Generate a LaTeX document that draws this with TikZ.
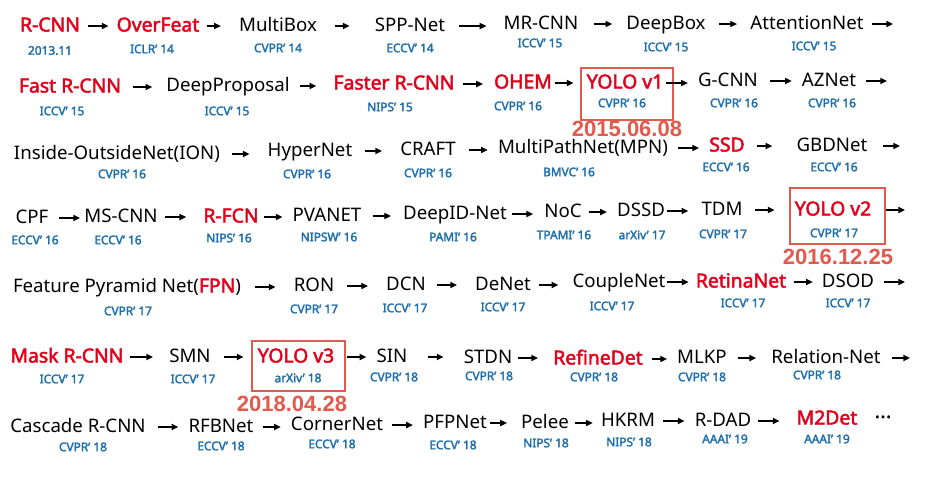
\documentclass[tikz,border=0pt]{standalone}
\usepackage{fontspec}
\setmainfont{Noto Sans}[AutoFakeBold=2.4]
\newfontfamily\datefont{Liberation Sans}
\usetikzlibrary{arrows.meta}
\definecolor{hotred}{HTML}{E3001B}
\definecolor{venueblue}{HTML}{1C6EAD}
\definecolor{markred}{HTML}{E2594D}

\tikzset{
  nm/.style={inner sep=0pt, text height=8.25pt, text depth=0pt,
    font=\fontsize{14}{16}\selectfont, text=black},
  hot/.style={nm, font=\fontsize{14.5}{16}\selectfont\bfseries, text=hotred},
  ven/.style={inner sep=0pt, text height=6.3pt, text depth=0pt,
    font=\fontsize{8.9}{10}\selectfont\bfseries, text=venueblue},
  datelbl/.style={inner sep=0pt, text height=11.8pt, text depth=0pt,
    font=\datefont\fontsize{16.5}{18}\selectfont\bfseries, text=markred},
  hl/.style={draw=markred, line width=2.2pt, inner sep=0pt},
  arr/.style={line width=1pt, -{Triangle[length=5pt,width=4.6pt]}},
}
% arrow between two names; #3/#4 = gaps (px) left free at either end
\newcommand\linkar[4]{\draw[arr, shorten <=#3*0.75pt, shorten >=#4*0.75pt] (#1.east) -- (#2.west |- #1.east);}
% arrow from a name to a free end coordinate
\newcommand\linkend[3]{\draw[arr, shorten <=#3*0.75pt] (#1.east) -- (#2 |- #1.east);}

\begin{document}
\begin{tikzpicture}[x=0.75pt, y=-0.75pt]
\fill[white] (0,0) rectangle (930,476);
\useasboundingbox (0,0) rectangle (930,476);

% ---------- row 1 ----------
\node[hot] (rcnn)     at (50,26)  {R-CNN};
\node[hot] (overfeat) at (158,26) {OverFeat};
\node[nm]  (multibox) at (278,26) {MultiBox};
\node[nm]  (sppnet)   at (410,26) {SPP-Net};
\node[nm]  (mrcnn)    at (541,24) {MR-CNN};
\node[nm]  (deepbox)  at (666,24) {DeepBox};
\node[nm]  (attnet)   at (807,24) {AttentionNet};
\coordinate (end1) at (893,24);
\node[ven] (v-rcnn)     at (50,50.5) {2013.11};
\node[ven] (v-overfeat) at (152,49) {ICLR’ 14};
\node[ven] (v-multibox) at (278,48) {CVPR’ 14};
\node[ven] (v-sppnet)   at (410,48) {ECCV’ 14};
\node[ven] (v-mrcnn)    at (540,43) {ICCV’ 15};
\node[ven] (v-deepbox)  at (666,47) {ICCV’ 15};
\node[ven] (v-attnet)   at (814,46) {ICCV’ 15};
\linkar{rcnn}{overfeat}{8}{8}
\linkar{overfeat}{multibox}{7}{18}
\linkar{multibox}{sppnet}{18}{25}
\linkar{sppnet}{mrcnn}{14}{17}
\linkar{mrcnn}{deepbox}{15}{14}
\linkar{deepbox}{attnet}{13}{13}
\linkend{attnet}{end1}{8}

% ---------- row 2 ----------
\node[hot] (fastrcnn) at (70,87)  {Fast R-CNN};
\node[nm]  (deepprop) at (228,86) {DeepProposal};
\node[hot] (faster)   at (394,84) {Faster R-CNN};
\node[hot] (ohem)     at (523,83) {OHEM};
\node[hot] (yolo1)    at (625,83) {YOLO v1};
\node[nm]  (gcnn)     at (728,81) {G-CNN};
\node[nm]  (aznet)    at (829,81) {AZNet};
\coordinate (end2) at (887,81);
\node[ven] (v-fastrcnn) at (62,111)  {ICCV’ 15};
\node[ven] (v-deepprop) at (227,111) {ICCV’ 15};
\node[ven] (v-faster)   at (390,107) {NIPS’ 15};
\node[ven] (v-ohem)     at (518,106) {CVPR’ 16};
\node[ven] (v-yolo1)    at (622,103) {CVPR’ 16};
\node[ven] (v-gcnn)     at (734,103) {CVPR’ 16};
\node[ven] (v-aznet)    at (832,103) {CVPR’ 16};
\node[hl, minimum width=92*0.75pt, minimum height=52*0.75pt] (box1) at (627,94) {};
\node[datelbl] (date1) at (627,128.5) {2015.06.08};
\linkar{fastrcnn}{deepprop}{12}{14}
\linkar{deepprop}{faster}{10}{17}
\linkar{faster}{ohem}{8}{11}
\linkar{ohem}{yolo1}{3}{13}
\linkar{yolo1}{gcnn}{3}{10}
\linkar{gcnn}{aznet}{12}{10}
\linkend{aznet}{end2}{10}

% ---------- row 3 ----------
\node[nm]  (ion)      at (117,154) {Inside-OutsideNet(ION)};
\node[nm]  (hypernet) at (310,151) {HyperNet};
\node[nm]  (craft)    at (428,150) {CRAFT};
\node[nm]  (mpn)      at (583,148) {MultiPathNet(MPN)};
\node[hot] (ssd)      at (727,146) {SSD};
\node[nm]  (gbdnet)   at (832,146) {GBDNet};
\coordinate (end3) at (900,146);
\node[ven] (v-ion)      at (122,174) {CVPR’ 16};
\node[ven] (v-hypernet) at (307,174) {CVPR’ 16};
\node[ven] (v-craft)    at (428,173) {CVPR’ 16};
\node[ven] (v-mpn)      at (569,172) {BMVC’ 16};
\node[ven] (v-ssd)      at (726,167) {ECCV’ 16};
\node[ven] (v-gbdnet)   at (834,167) {ECCV’ 16};
\linkar{ion}{hypernet}{12}{18}
\linkar{hypernet}{craft}{12}{18}
\linkar{craft}{mpn}{13}{10}
\linkar{mpn}{ssd}{10}{10}
\linkar{ssd}{gbdnet}{12}{24}
\linkend{gbdnet}{end3}{15}

% ---------- row 4 ----------
\node[nm]  (cpf)      at (32,218)  {CPF};
\node[nm]  (mscnn)    at (121,217) {MS-CNN};
\node[hot] (rfcn)     at (231,217) {R-FCN};
\node[nm]  (pvanet)   at (327,216) {PVANET};
\node[nm]  (deepid)   at (455,214) {DeepID-Net};
\node[nm]  (noc)      at (563,212) {NoC};
\node[nm]  (dssd)     at (641,211) {DSSD};
\node[nm]  (tdm)      at (722,210) {TDM};
\node[hot] (yolo2)    at (833,210) {YOLO v2};
\coordinate (end4) at (905,210);
\node[ven] (v-cpf)    at (35,240)  {ECCV’ 16};
\node[ven] (v-mscnn)  at (118,240) {ECCV’ 16};
\node[ven] (v-rfcn)   at (229,238) {NIPS’ 16};
\node[ven] (v-pvanet) at (329,237) {NIPSW’ 16};
\node[ven] (v-deepid) at (453,237) {PAMI’ 16};
\node[ven] (v-noc)    at (564,235) {TPAMI’ 16};
\node[ven] (v-dssd)   at (642,235) {arXiv’ 17};
\node[ven] (v-tdm)    at (723,234) {CVPR’ 17};
\node[ven] (v-yolo2)  at (834,233) {CVPR’ 17};
\node[hl, minimum width=95*0.75pt, minimum height=56*0.75pt] (box2) at (837.5,216) {};
\node[datelbl] (date2) at (838,256.5) {2016.12.25};
\linkar{cpf}{mscnn}{10}{4}
\linkar{mscnn}{rfcn}{7}{17}
\linkar{rfcn}{pvanet}{5}{10}
\linkar{pvanet}{deepid}{11}{12}
\linkar{deepid}{noc}{5}{11}
\linkar{noc}{dssd}{7}{10}
\linkar{dssd}{tdm}{2}{13}
\linkar{tdm}{yolo2}{12}{20}
\linkend{yolo2}{end4}{15}

% ---------- row 5 ----------
\node[nm]  (fpn)       at (127,287) {Feature Pyramid Net(\textcolor{hotred}{\fontsize{14.5}{16}\selectfont\bfseries FPN})};
\node[nm]  (ron)       at (314,286) {RON};
\node[nm]  (dcn)       at (406,285) {DCN};
\node[nm]  (denet)     at (503,285) {DeNet};
\node[nm]  (couplenet) at (619,282) {CoupleNet};
\node[hot] (retinanet) at (741,282) {RetinaNet};
\node[nm]  (dsod)      at (848,282) {DSOD};
\coordinate (end5) at (905,282);
\node[ven] (v-fpn)       at (128,311) {CVPR’ 17};
\node[ven] (v-ron)       at (314,309) {CVPR’ 17};
\node[ven] (v-dcn)       at (405,308) {ICCV’ 17};
\node[ven] (v-denet)     at (503,307) {ICCV’ 17};
\node[ven] (v-couplenet) at (612,306) {ICCV’ 17};
\node[ven] (v-retinanet) at (743,303) {ICCV’ 17};
\node[ven] (v-dsod)      at (848,303) {ICCV’ 17};
\linkar{fpn}{ron}{14}{18}
\linkar{ron}{dcn}{13}{18}
\linkar{dcn}{denet}{11}{18}
\linkar{denet}{couplenet}{8}{14}
\linkar{couplenet}{retinanet}{1}{7}
\linkar{retinanet}{dsod}{8}{9}
\linkend{dsod}{end5}{10}

% ---------- row 6 ----------
\node[hot] (maskrcnn)  at (67,357)  {Mask R-CNN};
\node[nm]  (smn)       at (190,357) {SMN};
\node[hot] (yolo3)     at (296,357) {YOLO v3};
\node[nm]  (sin)       at (392,357) {SIN};
\node[nm]  (stdn)      at (488,358) {STDN};
\node[hot] (refinedet) at (598,359) {RefineDet};
\node[nm]  (mlkp)      at (702,358) {MLKP};
\node[nm]  (relnet)    at (826,358) {Relation-Net};
\coordinate (end6) at (910,358);
\node[ven] (v-maskrcnn)  at (62,379)  {ICCV’ 17};
\node[ven] (v-smn)       at (193,379) {ICCV’ 17};
\node[ven] (v-yolo3)     at (298,378) {arXiv’ 18};
\node[ven] (v-sin)       at (394,377) {CVPR’ 18};
\node[ven] (v-stdn)      at (489,376) {CVPR’ 18};
\node[ven] (v-refinedet) at (594,377) {CVPR’ 18};
\node[ven] (v-mlkp)      at (702,377) {CVPR’ 18};
\node[ven] (v-relnet)    at (817,375) {CVPR’ 18};
\node[hl, minimum width=93*0.75pt, minimum height=50*0.75pt] (box3) at (298.5,366) {};
\node[datelbl] (date3) at (292,404) {2018.04.28};
\linkar{maskrcnn}{smn}{6}{16}
\linkar{smn}{yolo3}{13}{14}
\linkar{yolo3}{sin}{13}{10}
\linkar{sin}{stdn}{20}{20}
\linkar{stdn}{refinedet}{6}{15}
\linkar{refinedet}{mlkp}{9}{10}
\linkar{mlkp}{relnet}{11}{15}
\linkend{relnet}{end6}{11}

% ---------- row 7 ----------
\node[nm]  (cascade)   at (78,427)  {Cascade R-CNN};
\node[nm]  (rfbnet)    at (221,427) {RFBNet};
\node[nm]  (cornernet) at (337,425) {CornerNet};
\node[nm]  (pfpnet)    at (455,423) {PFPNet};
\node[nm]  (pelee)     at (545,423) {Pelee};
\node[nm]  (hkrm)      at (628,421) {HKRM};
\node[nm]  (rdad)      at (723,421) {R-DAD};
\node[hot] (m2det)     at (827,419) {M2Det};
\node[nm]  (more)      at (883,418) {\textbf{·\kern0.5pt·\kern0.5pt·}};
\node[ven] (v-cascade)   at (83,447)  {CVPR’ 18};
\node[ven] (v-rfbnet)    at (221,446) {ECCV’ 18};
\node[ven] (v-cornernet) at (332,444) {ECCV’ 18};
\node[ven] (v-pfpnet)    at (453,445) {ECCV’ 18};
\node[ven] (v-pelee)     at (546,443) {NIPS’ 18};
\node[ven] (v-hkrm)      at (629,442) {NIPS’ 18};
\node[ven] (v-rdad)      at (725,439) {AAAI’ 19};
\node[ven] (v-m2det)     at (827,439) {AAAI’ 19};
\linkar{cascade}{rfbnet}{12}{10}
\linkar{rfbnet}{cornernet}{9}{10}
\linkar{cornernet}{pfpnet}{9}{10}
\linkar{pfpnet}{pelee}{3}{14}
\linkar{pelee}{hkrm}{6}{8}
\linkar{hkrm}{rdad}{8}{10}
\linkar{rdad}{m2det}{7}{17}
\end{tikzpicture}
\end{document}
